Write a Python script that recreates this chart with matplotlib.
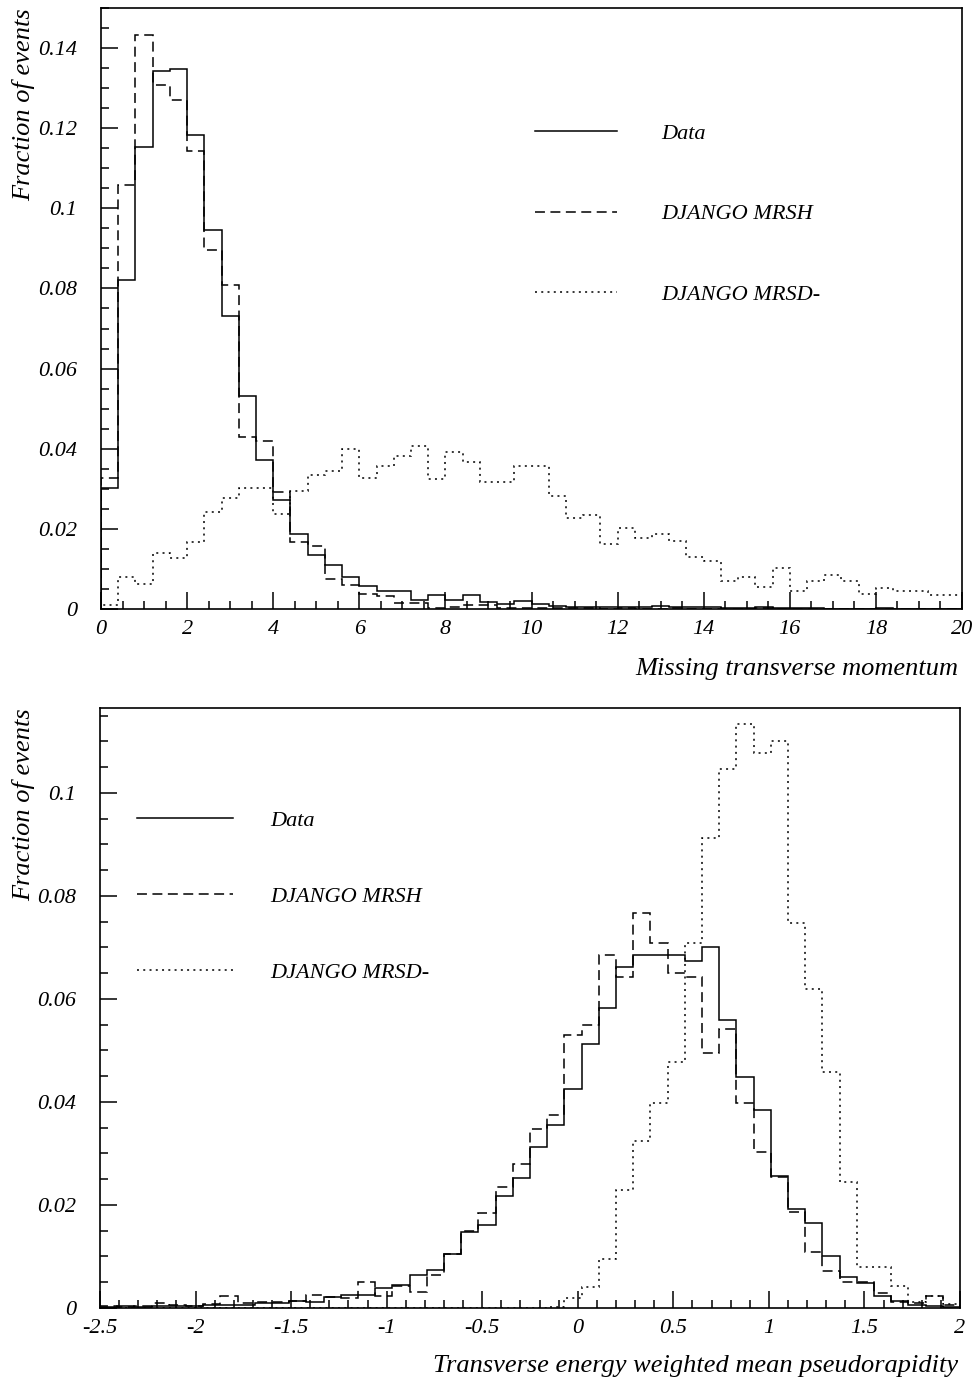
import numpy as np
import matplotlib
matplotlib.use("Agg")
import matplotlib.pyplot as plt
from matplotlib.ticker import MultipleLocator, FuncFormatter

plt.rcParams['font.family'] = ['Liberation Serif', 'DejaVu Serif']
plt.rcParams['font.style'] = 'italic'

# missing transverse momentum, 50 bins of 0.4 from 0 to 20
ptmiss_edges = np.linspace(0, 20, 51)
ptmiss_data = [0.0301, 0.0821, 0.1152, 0.1344, 0.1349, 0.1184, 0.0947, 0.0732, 0.0531, 0.0373,
               0.0271, 0.0187, 0.0136, 0.0109, 0.0080, 0.0057, 0.0046, 0.0046, 0.0023, 0.0034,
               0.0023, 0.0034, 0.0018, 0.0013, 0.0019, 0.0013, 0.0007, 0.0006, 0.0005, 0.0005,
               0.0004, 0.0004, 0.0007, 0.0004, 0.0005, 0.0006, 0.0003, 0.0002, 0.0005, 0.0002,
               0.0002, 0.0003, 0.0001, 0.0001, 0.0001, 0.0002, 0.0001, 0.0001, 0.0001, 0.0001]
ptmiss_mrsh = [0.0326, 0.1058, 0.1432, 0.1308, 0.1271, 0.1143, 0.0895, 0.0808, 0.0430, 0.0420,
               0.0291, 0.0167, 0.0157, 0.0074, 0.0061, 0.0038, 0.0032, 0.0015, 0.0015, 0.0003,
               0.0004, 0.0009, 0.0009, 0.0003, 0.0002, 0.0002, 0.0003, 0.0002, 0.0002, 0.0001,
               0.0002, 0.0001, 0.0001, 0.0002, 0.0001, 0.0001, 0.0001, 0.0001, 0.0003, 0.0001,
               0.0001, 0.0001, 0.0000, 0.0001, 0.0000, 0.0000, 0.0001, 0.0000, 0.0000, 0.0001]
ptmiss_mrsd = [0.0010, 0.0080, 0.0063, 0.0140, 0.0128, 0.0167, 0.0242, 0.0276, 0.0301, 0.0301,
               0.0238, 0.0295, 0.0335, 0.0344, 0.0400, 0.0326, 0.0358, 0.0383, 0.0408, 0.0325,
               0.0391, 0.0368, 0.0318, 0.0318, 0.0358, 0.0358, 0.0283, 0.0227, 0.0235, 0.0162,
               0.0203, 0.0178, 0.0187, 0.0169, 0.0130, 0.0121, 0.0071, 0.0079, 0.0054, 0.0103,
               0.0046, 0.0071, 0.0086, 0.0069, 0.0038, 0.0053, 0.0044, 0.0044, 0.0036, 0.0036]

# E_T weighted mean pseudorapidity, 50 bins of 0.09 from -2.5 to 2
eta_edges = np.linspace(-2.5, 2.0, 51)
eta_data = [0.0002, 0.0003, 0.0002, 0.0003, 0.0004, 0.0003, 0.0005, 0.0006, 0.0006, 0.0009,
            0.0010, 0.0014, 0.0012, 0.0021, 0.0025, 0.0026, 0.0039, 0.0045, 0.0065, 0.0073,
            0.0104, 0.0148, 0.0161, 0.0218, 0.0252, 0.0312, 0.0356, 0.0426, 0.0513, 0.0582,
            0.0663, 0.0686, 0.0686, 0.0686, 0.0673, 0.0700, 0.0560, 0.0448, 0.0385, 0.0257,
            0.0192, 0.0165, 0.0100, 0.0060, 0.0048, 0.0024, 0.0014, 0.0006, 0.0003, 0.0001]
eta_mrsh = [0.0003, 0.0002, 0.0004, 0.0010, 0.0006, 0.0004, 0.0008, 0.0023, 0.0010, 0.0011,
            0.0011, 0.0013, 0.0025, 0.0021, 0.0019, 0.0051, 0.0023, 0.0043, 0.0032, 0.0064,
            0.0104, 0.0149, 0.0184, 0.0234, 0.0279, 0.0348, 0.0374, 0.0530, 0.0550, 0.0686,
            0.0643, 0.0767, 0.0708, 0.0650, 0.0643, 0.0495, 0.0541, 0.0399, 0.0303, 0.0255,
            0.0186, 0.0109, 0.0071, 0.0050, 0.0051, 0.0030, 0.0012, 0.0010, 0.0024, 0.0006]
eta_mrsd = [0.0, 0.0, 0.0, 0.0, 0.0, 0.0, 0.0, 0.0, 0.0, 0.0,
            0.0, 0.0, 0.0, 0.0, 0.0, 0.0, 0.0, 0.0, 0.0, 0.0,
            0.0, 0.0, 0.0, 0.0, 0.0, 0.0, 0.0002, 0.0020, 0.0041, 0.0096,
            0.0229, 0.0325, 0.0398, 0.0477, 0.0708, 0.0913, 0.1046, 0.1134, 0.1077, 0.1101,
            0.0747, 0.0620, 0.0459, 0.0245, 0.0079, 0.0079, 0.0042, 0.0012, 0.0024, 0.0008]

labels = ['Data', 'DJANGO MRSH', 'DJANGO MRSD-']
styles = ['-', (0, (6.5, 3.6)), (0, (1.3, 2.8))]

fs = 16
title_fs = 19
lw = 1.1


def fmt(v, pos):
    return ('%g' % round(v, 3))


def style_axes(ax, xmaj, xmin, ymaj, ymin):
    for s in ax.spines.values():
        s.set_linewidth(1.2)
    ax.xaxis.set_major_locator(MultipleLocator(xmaj))
    ax.xaxis.set_minor_locator(MultipleLocator(xmin))
    ax.yaxis.set_major_locator(MultipleLocator(ymaj))
    ax.yaxis.set_minor_locator(MultipleLocator(ymin))
    ax.xaxis.set_major_formatter(FuncFormatter(fmt))
    ax.yaxis.set_major_formatter(FuncFormatter(fmt))
    ax.tick_params(which='both', direction='in', top=False, right=False, width=1.1, labelsize=fs)
    ax.tick_params(which='major', length=12)
    ax.tick_params(which='minor', length=6)
    ax.tick_params(axis='x', pad=8)
    ax.tick_params(axis='y', pad=17)


fig = plt.figure(figsize=(9.78, 13.82), dpi=100)

# top panel
ax1 = fig.add_axes([101 / 978, 1 - 609 / 1382, 861 / 978, 601 / 1382])
for vals, ls, lab in zip([ptmiss_data, ptmiss_mrsh, ptmiss_mrsd], styles, labels):
    ax1.stairs(vals, ptmiss_edges, color='black', lw=lw, linestyle=ls, label=lab)
ax1.set_xlim(0, 20)
ax1.set_ylim(0, 0.150)
style_axes(ax1, 2, 0.5, 0.02, 0.005)
ax1.legend(loc='upper left', bbox_to_anchor=(0.504, 0.808), frameon=False, fontsize=fs,
           handlelength=3.7, handletextpad=2.0, labelspacing=2.69, borderpad=0, borderaxespad=0)

# bottom panel
ax2 = fig.add_axes([100 / 978, 1 - 1308 / 1382, 860 / 978, 600 / 1382])
for vals, ls, lab in zip([eta_data, eta_mrsh, eta_mrsd], styles, labels):
    ax2.stairs(vals, eta_edges, color='black', lw=lw, linestyle=ls, label=lab)
ax2.set_xlim(-2.5, 2.0)
ax2.set_ylim(0, 0.1165)
style_axes(ax2, 0.5, 0.1, 0.02, 0.005)
ax2.legend(loc='upper left', bbox_to_anchor=(0.043, 0.830), frameon=False, fontsize=fs,
           handlelength=4.3, handletextpad=1.7, labelspacing=2.5, borderpad=0, borderaxespad=0)

# axis titles
for y in [8, 708]:
    fig.text(35 / 978, 1 - y / 1382, 'Fraction of events', rotation=90, fontsize=title_fs,
             ha='right', va='bottom', rotation_mode='anchor')
fig.text(958 / 978, 1 - 675 / 1382, 'Missing transverse momentum', fontsize=title_fs,
         ha='right', va='baseline')
fig.text(958 / 978, 1 - 1372 / 1382, 'Transverse energy weighted mean pseudorapidity',
         fontsize=title_fs, ha='right', va='baseline')

fig.savefig('out.png', dpi=100)
